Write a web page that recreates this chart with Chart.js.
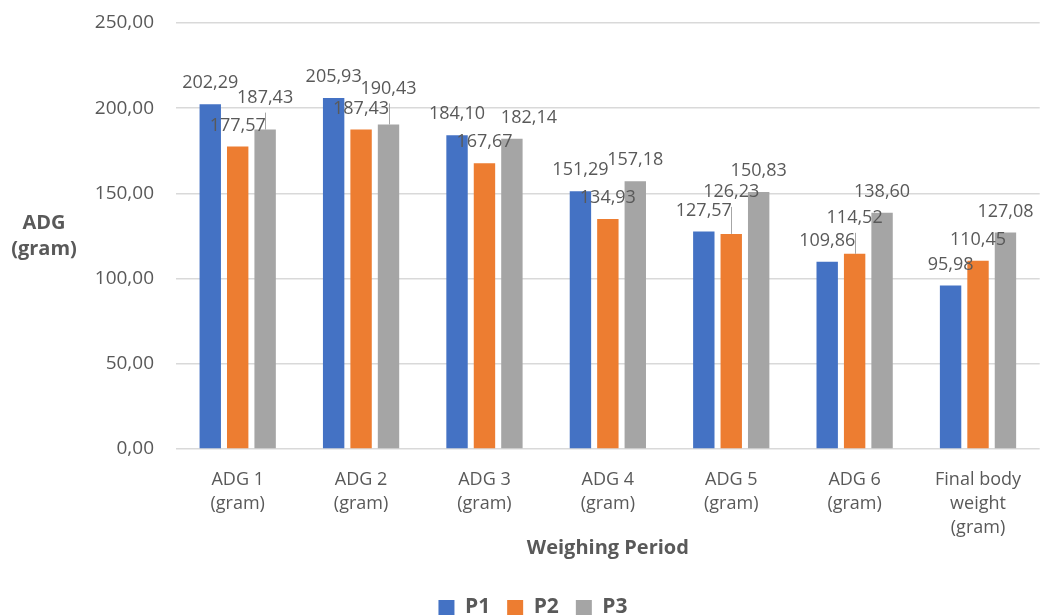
<!DOCTYPE html>
<html>
<head>
<meta charset="utf-8">
<script src="https://cdn.jsdelivr.net/npm/chart.js@4.4.1/dist/chart.umd.min.js"></script>
<style>
  html, body { margin: 0; padding: 0; background: #fff; overflow: hidden; }
  #wrap { width: 1040px; height: 628px; position: relative; }
</style>
</head>
<body>
<div id="wrap"><canvas id="chart"></canvas></div>
<script>
// Weighing periods (x categories), one array per treatment group
const categories = [
  ["ADG 1", "(gram)"],
  ["ADG 2", "(gram)"],
  ["ADG 3", "(gram)"],
  ["ADG 4", "(gram)"],
  ["ADG 5", "(gram)"],
  ["ADG 6", "(gram)"],
  ["Final body", "weight", "(gram)"]
];
const p1 = [202.29, 205.93, 184.10, 151.29, 127.57, 109.86, 95.98];
const p2 = [177.57, 187.43, 167.67, 134.93, 126.23, 114.52, 110.45];
const p3 = [187.43, 190.43, 182.14, 157.18, 150.83, 138.60, 127.08];
const seriesNames = ["P1", "P2", "P3"];

const yMin = 0;
const yMax = 250;
const yStep = 50;

// Styling
const seriesColors = ["#4472C4", "#ED7D31", "#A5A5A5"];
const textColor = "#595959";
const gridColor = "#d9d9d9";
const FONT = '"Open Sans", "Noto Sans", sans-serif';

// Nudges [dx, dy] (px) for value labels that would otherwise collide
const labelShift = [
  [[0,0],[0,0],[0,0],[0,0],[0,0],[0,0],[0,0]],
  [[0,0],[0,0],[0,0],[0,0],[0,-21],[0,-15],[0,0]],
  [[0,-11],[0,-15],[17,0],[0,0],[0,0],[0,0],[0,0]]
];

const fmt = v => v.toFixed(2).replace('.', ',');

// Value labels above each bar, with a leader line when moved up
const valueLabels = {
  id: 'valueLabels',
  afterDatasetsDraw(chart) {
    const ctx = chart.ctx;
    ctx.save();
    ctx.font = '18px ' + FONT;
    ctx.textAlign = 'center';
    ctx.textBaseline = 'middle';
    chart.data.datasets.forEach((ds, di) => {
      const meta = chart.getDatasetMeta(di);
      meta.data.forEach((bar, i) => {
        const [dx, dy] = labelShift[di][i];
        const x = bar.x + dx;
        const y = bar.y - 21 + dy;
        if (dy < -5) {
          ctx.strokeStyle = '#a6a6a6';
          ctx.lineWidth = 1;
          ctx.beginPath();
          ctx.moveTo(Math.round(bar.x) + 0.5, y + 15);
          ctx.lineTo(Math.round(bar.x) + 0.5, bar.y);
          ctx.stroke();
        }
        ctx.fillStyle = textColor;
        ctx.fillText(fmt(ds.data[i]), x, y);
      });
    });
    ctx.restore();
  }
};

// Horizontal, two-line title for the value axis
const yAxisTitle = {
  id: 'yAxisTitle',
  afterDraw(chart) {
    const ctx = chart.ctx;
    const area = chart.chartArea;
    const cy = (area.top + area.bottom) / 2;
    ctx.save();
    ctx.font = 'bold 20px ' + FONT;
    ctx.fillStyle = textColor;
    ctx.textAlign = 'center';
    ctx.textBaseline = 'middle';
    ctx.fillText('ADG', 44, cy - 13);
    ctx.fillText('(gram)', 44, cy + 13);
    ctx.restore();
  }
};

new Chart(document.getElementById('chart'), {
  type: 'bar',
  data: {
    labels: categories,
    datasets: [
      { label: seriesNames[0], data: p1, backgroundColor: seriesColors[0] },
      { label: seriesNames[1], data: p2, backgroundColor: seriesColors[1] },
      { label: seriesNames[2], data: p3, backgroundColor: seriesColors[2] }
    ]
  },
  options: {
    responsive: true,
    maintainAspectRatio: false,
    animation: false,
    devicePixelRatio: 1,
    layout: { padding: { top: 23, right: 0, left: 26, bottom: 0 } },
    datasets: {
      bar: { categoryPercentage: 0.667, barPercentage: 0.78 }
    },
    plugins: {
      legend: {
        position: 'bottom',
        labels: {
          boxWidth: 16,
          boxHeight: 15,
          padding: 17,
          color: textColor,
          font: { family: FONT, size: 21, weight: 'bold' }
        }
      },
      tooltip: { enabled: false }
    },
    scales: {
      x: {
        grid: { display: false, drawTicks: false },
        border: { display: false },
        ticks: {
          color: textColor,
          padding: 19,
          maxRotation: 0,
          autoSkip: false,
          font: { family: FONT, size: 18, lineHeight: 1.33 }
        },
        title: {
          display: true,
          text: 'Weighing Period',
          color: textColor,
          font: { family: FONT, size: 20, weight: 'bold' },
          padding: { top: 0, bottom: 20 }
        },
        afterFit(scale) { scale.height = 131; }
      },
      y: {
        min: yMin,
        max: yMax,
        grid: { color: gridColor, lineWidth: 1.5, drawTicks: false },
        border: { display: false },
        ticks: {
          stepSize: yStep,
          color: textColor,
          padding: 22,
          font: { family: FONT, size: 19 },
          callback: v => fmt(v)
        },
        afterFit(scale) {
          scale.width = 150;
          scale.paddingTop = 0;
          scale.paddingBottom = 0;
        }
      }
    }
  },
  plugins: [valueLabels, yAxisTitle]
});
</script>
</body>
</html>
